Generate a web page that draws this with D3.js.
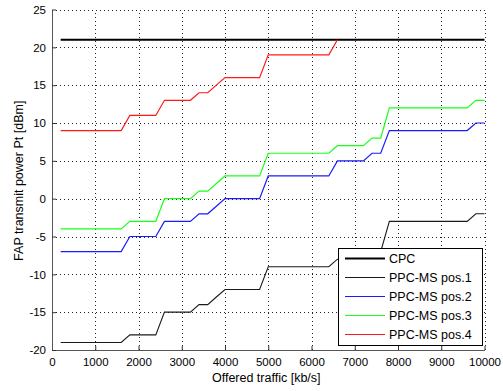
<!DOCTYPE html>
<html>
<head>
<meta charset="utf-8">
<script src="https://cdn.jsdelivr.net/npm/d3@7"></script>
<style>
html,body{margin:0;padding:0;background:#fff;}
svg{display:block;}
text{font-family:"Liberation Sans",Arial,sans-serif;fill:#000;}
</style>
</head>
<body>
<svg id="chart" width="503" height="391"></svg>
<script>
// ---- data ----
const traffic = [200,1600,1800,2400,2600,3200,3400,3600,3800,4000,4800,5000,6400,6600,7200,7400,7600,7800,9600,9800,10000];
const cpc  = [21,21,21,21,21,21,21,21,21,21,21,21,21,21,21,21,21,21,21,21,21];
const pos1 = [-19,-19,-18,-18,-15,-15,-14,-14,-13,-12,-12,-9,-9,-8,-8,-7,-7,-3,-3,-2,-2];
const pos2 = [-7,-7,-5,-5,-3,-3,-2,-2,-1,0,0,3,3,5,5,6,6,9,9,10,10];
const pos3 = [-4,-4,-3,-3,0,0,1,1,2,3,3,6,6,7,7,8,8,12,12,13,13];
const pos4 = [9,9,11,11,13,13,14,14,15,16,16,19,19,21,null,null,null,null,null,null,null];
const seriesNames = ["CPC","PPC-MS pos.1","PPC-MS pos.2","PPC-MS pos.3","PPC-MS pos.4"];
const seriesColors = ["#000000","#1a1a1a","#1a1aff","#1aff1a","#ff1a1a"];
const seriesWidths = [2.2,1.1,1.2,1.2,1.2];
const xTicks = [0,1000,2000,3000,4000,5000,6000,7000,8000,9000,10000];
const yTicks = [-20,-15,-10,-5,0,5,10,15,20,25];
const yTickLabels = ["-20","-15","-10","-5","0","5","10","15","20","25"];
const xLabel = "Offered traffic [kb/s]";
const yLabel = "FAP transmit power Pt [dBm]";

const seriesValues = [cpc,pos1,pos2,pos3,pos4];

// ---- layout ----
const svg = d3.select("#chart");
const L = 52, R = 484.5, T = 9.5, B = 350;
const x = d3.scaleLinear().domain([0,10000]).range([L,R]);
const y = d3.scaleLinear().domain([-20,25]).range([B,T]);

svg.append("rect").attr("width",503).attr("height",391).attr("fill","#fff");

// grid
const grid = svg.append("g").attr("stroke","#222").attr("stroke-width",1).attr("stroke-dasharray","1,3").attr("shape-rendering","crispEdges");
xTicks.filter(d=>d>0).forEach(d=>{
  grid.append("line").attr("x1",Math.round(x(d))+0.5).attr("x2",Math.round(x(d))+0.5).attr("y1",B).attr("y2",T);
});
yTicks.filter(d=>d>-20).forEach(d=>{
  grid.append("line").attr("y1",Math.round(y(d))+0.5).attr("y2",Math.round(y(d))+0.5).attr("x1",L).attr("x2",R);
});

// axes
const xAxis = d3.axisBottom(x).tickValues(xTicks).tickSizeInner(-4).tickSizeOuter(0).tickPadding(8).tickFormat(d3.format("d"));
const gx = svg.append("g").attr("transform",`translate(0,${B})`).call(xAxis);
const yAxis = d3.axisLeft(y).tickValues(yTicks).tickSizeInner(-4).tickSizeOuter(0).tickPadding(6).tickFormat((d,i)=>yTickLabels[i]);
const gy = svg.append("g").attr("transform",`translate(${L},0)`).call(yAxis);
[gx,gy].forEach(g=>{
  g.selectAll("path").attr("stroke","#555");
  g.selectAll("line").attr("stroke","#333");
  g.selectAll("text").attr("font-size","11.5px").attr("font-family","'Liberation Sans',Arial,sans-serif").attr("fill","#111");
});
gx.selectAll("text").attr("dy","0.71em");

// lines
const lineGen = d3.line().defined(d=>d[1]!==null).x(d=>x(d[0])).y(d=>y(d[1]));
seriesValues.forEach((vals,i)=>{
  const pts = traffic.map((t,j)=>[t,vals[j]]);
  svg.append("path").datum(pts).attr("d",lineGen).attr("fill","none")
    .attr("stroke",seriesColors[i]).attr("stroke-width",seriesWidths[i]);
});

// labels
svg.append("text").attr("x",(L+R)/2 - 2).attr("y",382).attr("text-anchor","middle").attr("font-size","12.5px").text(xLabel);
svg.append("text").attr("transform",`translate(22.5,${(T+B)/2 + 1}) rotate(-90)`).attr("text-anchor","middle").attr("font-size","12.5px").text(yLabel);

// legend
const lg = svg.append("g");
const lx = 338, ly = 248, lw = 144, lh = 97;
lg.append("rect").attr("x",lx+0.5).attr("y",ly+0.5).attr("width",lw).attr("height",lh).attr("fill","#fff").attr("stroke","#000").attr("stroke-width",1);
seriesNames.forEach((n,i)=>{
  const yy = ly + 10.5 + i*19;
  lg.append("line").attr("x1",lx+7).attr("x2",lx+47).attr("y1",yy).attr("y2",yy)
    .attr("stroke",seriesColors[i]).attr("stroke-width",seriesWidths[i]);
  lg.append("text").attr("x",lx+51).attr("y",yy).attr("dy","0.35em").attr("font-size","12.5px").text(n);
});
</script>
</body>
</html>
